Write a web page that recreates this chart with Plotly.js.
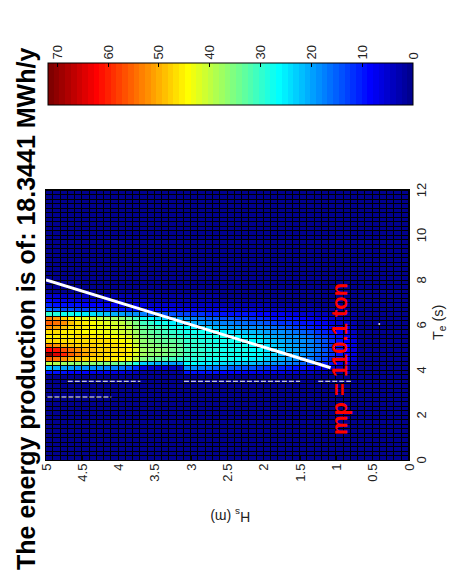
<!DOCTYPE html>
<html><head><meta charset="utf-8">
<script src="https://cdn.plot.ly/plotly-3.0.1.min.js"></script>
<style>
html,body{margin:0;padding:0;background:#fff;overflow:hidden;width:449px;height:575px;}
#chart{position:absolute;left:0;top:0;width:575px;height:449px;transform-origin:0 0;transform:translate(0px,575px) rotate(-90deg);}
</style></head><body><div id="chart"></div>
<script>
// ---- data ----
const teTicks = [0, 2, 4, 6, 8, 10, 12];
const hsTicks = [0, 0.5, 1, 1.5, 2, 2.5, 3, 3.5, 4, 4.5, 5];
const cbTicks = [0, 10, 20, 30, 40, 50, 60, 70];
const nTeCells = 60;          // Te cells 0..12 s, 0.2 s wide
const nHsCells = 50;          // Hs cells 0..5 m, 0.1 m wide
const bandFirstTeCell = 19;   // first Te cell of the coloured band (3.8 s)
const bandTopHsCell = 49;     // first listed row is Hs 4.9-5.0 m, rows go down in Hs
const zMax = 71.8;
// energy (MWh/y) for Te cells 3.8 ... 7.4 s, one row per Hs cell from 5.0 m downwards
const bandRows = [
 [10,22,40,56,71.8,62,53,47,45,46,52,55,53,30,16,11,8,5],
 [9,21,39,54,64,61,52,46,45,46,51,54,51,29,15,10,7,5],
 [9,20,38,52,60,57,50,46,45,45,49,52,48,28,14,10,7,4],
 [8,20,37,50,56,54,49,46,45,45,47,49,45,27,14,9,6,4],
 [8,19,37,49,53,52,48,47,46,45,46,47,43,26,13,9,6,4],
 [8,19,36,48,51,50,48,47,46,44,45,45,42,25,13,8,6,4],
 [7,18,36,47,49,49,48,47,45,44,44,44,41,24,12,8,5,3],
 [7,18,35,46,48,48,47,46,45,43,43,43,40,23,12,8,5,3],
 [7,17,35,46,47,48,47,46,44,43,43,42,39,22,11,7,5,3],
 [6,17,34,45,47,47,46,45,44,42,42,41,38,21,11,7,5,3],
 [6,16,33,44,46,46,45,44,43,41,41,40,36,20,10,7,4,3],
 [5,15,32,43,45,45,44,43,42,40,40,38,34,19,10,6,4,3],
 [4,12,29,40,42,42,41,40,39,38,37,35,31,18,9,6,4,2],
 [2,6,23,35,38,38,37,36,35,34,33,31,27,17,9,6,4,2],
 [2,5,22,34,37,37,36,35,34,33,32,30,26,16,8,5,3,2],
 [2,5,21,33,36,36,35,34,33,32,31,28,24,15,8,5,3,2],
 [2,5,21,32,35,35,34,33,32,31,30,27,23,14,8,5,3,2],
 [2,4,20,31,34,34,34,33,31,30,28,25,21,14,7,5,3,2],
 [2,4,20,30,33,33,33,32,30,29,27,24,20,13,7,4,3,2],
 [10,18,26,30,31,31,31,30,29,28,26,22,18,13,7,4,3,2],
 [10,18,26,29,30,30,30,30,29,27,25,21,17,12,7,4,3,2],
 [9,17,25,29,30,30,30,29,28,27,24,20,16,12,6,4,3,2],
 [9,17,25,28,29,29,29,29,28,26,23,19,15,11,6,4,3,2],
 [9,16,24,28,29,29,29,28,27,26,22,18,15,11,6,4,2,2],
 [8,16,24,27,28,28,28,28,27,25,21,17,14,10,6,3,2,1],
 [8,15,23,27,28,28,28,27,26,24,20,17,14,10,5,3,2,1],
 [8,15,23,26,27,27,27,27,26,23,20,16,13,9,5,3,2,1],
 [7,14,22,26,27,27,27,26,25,22,19,16,13,9,5,3,2,1],
 [7,14,22,25,26,26,26,26,24,22,18,15,12,9,5,3,2,1],
 [7,13,21,25,26,26,26,25,24,21,18,15,12,8,5,3,2,1],
 [6,12,20,23,24,24,24,23,22,20,17,14,11,8,4,3,2,1],
 [6,12,19,22,23,23,23,22,21,19,16,13,10,7,4,2,2,1],
 [6,11,18,21,22,22,22,21,20,18,15,12,10,7,4,2,1,1],
 [5,11,17,20,21,21,21,20,19,17,14,12,9,6,4,2,1,1],
 [5,10,16,19,20,20,20,19,18,16,13,11,9,6,3,2,1,1],
 [4,9,15,17,18,18,18,18,17,15,12,10,8,5,3,2,1,1],
 [4,8,14,16,17,17,17,17,16,14,11,9,7,5,3,2,1,0],
 [3,7,12,15,15,16,16,15,14,12,10,8,6,4,3,1,1,0],
 [3,6,11,13,14,14,14,14,13,11,9,7,6,4,2,1,1,0],
 [3,5,9,11,12,12,12,12,11,10,8,6,5,3,2,1,0,0],
 [2,4,7,9,10,10,10,10,9,8,6,5,4,3,2,1,0,0],
 [2,3,5,7,8,8,8,8,7,6,5,4,3,2,1,1,0,0],
 [1,2,4,5,6,6,6,6,5,4,4,3,2,2,1,0,0,0]
];
// mass line and white dashed marks
const massLineTe = [8.0, 4.1];
const massLineHs = [5.0, 1.08];
const dashTe = [3.5, 3.5, null, 3.5, 3.5, null, 3.5, 3.5, null, 2.8, 2.8];
const dashHs = [4.7, 3.7, null, 3.1, 1.5, null, 1.25, 0.8, null, 4.98, 4.1];
const dotTe = [6.04];
const dotHs = [0.41];
const titleText = 'The energy production is of: 18.3441 MWh/y';
const massText = 'mp = 110.1 ton';

// ---- build grid ----
const z = [];
for (let j = 0; j < nHsCells; j++) z.push(new Array(nTeCells).fill(0));
bandRows.forEach((row, r) => {
  const j = bandTopHsCell - r;
  row.forEach((v, c) => { z[j][bandFirstTeCell + c] = v; });
});

// MATLAB jet(64) colour map
function jet64() {
  const m = 64, n = 16, u = [];
  for (let i = 1; i <= n; i++) u.push(i / n);
  for (let i = 1; i < n; i++) u.push(1);
  for (let i = n; i >= 1; i--) u.push(i / n);
  const g0 = Math.ceil(n / 2) - (m % 4 === 1 ? 1 : 0);
  const J = []; for (let i = 0; i < m; i++) J.push([0, 0, 0]);
  for (let i = 0; i < u.length; i++) {
    const g = g0 + i + 1, r = g + n, b = g - n;
    if (r >= 1 && r <= m) J[r - 1][0] = u[i];
    if (g >= 1 && g <= m) J[g - 1][1] = u[i];
    if (b >= 1 && b <= m) J[b - 1][2] = u[i];
  }
  const cs = [];
  J.forEach((c, i) => {
    const col = 'rgb(' + c.map(v => Math.round(v * 255)).join(',') + ')';
    cs.push([i / m, col]); cs.push([(i + 1) / m, col]);
  });
  return cs;
}

const font = 'Liberation Sans, Arial, Helvetica, sans-serif';
const traces = [
  {
    type: 'heatmap', z: z, x0: 0.1, dx: 0.2, y0: 0.05, dy: 0.1,
    zmin: 0, zmax: zMax, colorscale: jet64(), xgap: 1, ygap: 1,
    hoverinfo: 'skip',
    colorbar: {
      x: 1.3148, xanchor: 'left', y: 0.4917, yanchor: 'middle',
      thickness: 42, thicknessmode: 'pixels', len: 365, lenmode: 'pixels',
      xpad: 0, ypad: 0, outlinecolor: '#000', outlinewidth: 1,
      ticks: 'inside', ticklen: 4, tickcolor: '#000', tickvals: cbTicks,
      tickfont: {family: font, size: 13, color: '#222'}
    }
  },
  {type: 'scatter', mode: 'lines', x: massLineTe, y: massLineHs,
   line: {color: '#fff', width: 3}, hoverinfo: 'skip'},
  {type: 'scatter', mode: 'lines', x: dashTe, y: dashHs, connectgaps: false,
   line: {color: '#fff', width: 1, dash: '5px,2px'}, hoverinfo: 'skip'},
  {type: 'scatter', mode: 'markers', x: dotTe, y: dotHs,
   marker: {color: '#ddd', size: 2}, hoverinfo: 'skip'}
];

const axisCommon = {
  showgrid: false, zeroline: false, showline: true, mirror: true,
  linecolor: '#000', linewidth: 1, ticks: 'inside', ticklen: 5, tickcolor: '#000',
  tickfont: {family: font, size: 13, color: '#222'}, fixedrange: true
};

const layout = {
  width: 575, height: 449,
  margin: {l: 115, r: 190, t: 46, b: 40, pad: 0},
  paper_bgcolor: '#fff', plot_bgcolor: '#000',
  showlegend: false,
  xaxis: Object.assign({}, axisCommon, {range: [0, 12], tickvals: teTicks}),
  yaxis: Object.assign({}, axisCommon, {range: [0, 5], tickvals: hsTicks}),
  annotations: [
    {xref: 'paper', yref: 'paper', x: 0.56, y: 1.055, showarrow: false,
     text: titleText, xanchor: 'center', yanchor: 'middle',
     font: {family: font, size: 25, color: '#000', weight: 'bold'}},
    {xref: 'paper', yref: 'paper', x: 0.511, y: -0.082, showarrow: false,
     text: 'T<sub>e</sub>&nbsp;(s)', xanchor: 'center', yanchor: 'middle',
     font: {family: font, size: 14.5, color: '#222'}},
    {xref: 'paper', yref: 'paper', x: -0.207, y: 0.493, showarrow: false,
     text: 'H<sub>s</sub>&nbsp;(m)', textangle: -90, xanchor: 'center', yanchor: 'middle',
     font: {family: font, size: 14, color: '#222'}},
    {xref: 'x', yref: 'y', x: 1.0, y: 0.96, showarrow: false,
     text: massText, xanchor: 'left', yanchor: 'middle',
     font: {family: font, size: 22, color: '#ff0000', weight: 'bold'}}
  ]
};

Plotly.newPlot('chart', traces, layout, {displayModeBar: false, staticPlot: true});
</script></body></html>
